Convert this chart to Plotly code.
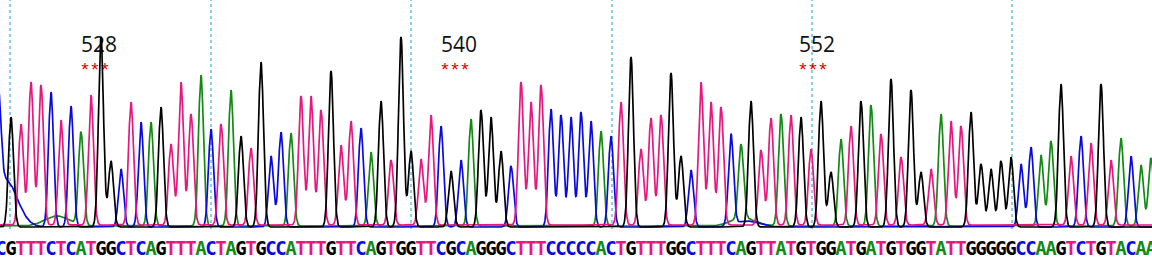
import numpy as np
import plotly.graph_objects as go

# ---- data ----
sequence = list("CGTTTCTCATGGCTCAGTTTACTAGTGCCATTTGTTCAGTGGTTCGCAGGGCTTTCCCCC"
                "ACTGTTTGGCTTTCAGTTATGTGGATGATGTGGTATTGGGGGCCAAGTCTGTACAA")
peak_heights = [95, 110, 101, 143, 140, 135, 105, 121, 93, 130,
                190, 66, 58, 123, 105, 104, 120, 81, 143, 111,
                151, 98, 101, 136, 91, 77, 165, 71, 95, 93,
                129, 129, 115, 156, 80, 104, 99, 74, 126, 65,
                190, 76, 66, 110, 101, 56, 67, 107, 117, 110,
                76, 61, 143, 123, 140, 118, 112, 110, 115, 106,
                95, 91, 123, 170, 76, 107, 110, 154, 71, 57,
                143, 123, 118, 91, 74, 126, 75, 107, 112, 110,
                110, 76, 126, 55, 87, 99, 126, 121, 91, 148,
                68, 137, 55, 56, 112, 104, 99, 115, 63, 58,
                66, 70, 63, 80, 71, 85, 143, 69, 91, 82,
                143, 65, 88, 71, 61, 68]
peak_shift = {0: -0.25}
# low, broad background humps: (base, centre position, height)
humps = [("C", 0.4, 48), ("A", 5.6, 10), ("A", 74.2, 8), ("C", 74.6, 6)]
baseline_level = {"A": 2, "C": 1, "G": 1, "T": 3}
codon_numbers = ["528", "540", "552"]
codon_positions = [9.4, 45.4, 81.2]
grid_positions = [0.9, 21, 41, 61.1, 81.1, 101.1]

colors = {"A": "#138a13", "C": "#0a0ae0", "G": "#000000", "T": "#e8177f"}

x = np.arange(-0.6, 115.7, 0.04)
sigma = 0.25

fig = go.Figure()

# codon labels and markers (drawn first so traces lie on top)
fig.add_trace(go.Scatter(
    x=[p + 0.4 for p in codon_positions], y=[181] * len(codon_positions),
    text=codon_numbers, mode="text", textposition="middle center",
    textfont=dict(family="Open Sans", size=21, color="#111111"),
    hoverinfo="skip", showlegend=False))
star_x = [p + d for p in codon_positions for d in (-1, 0, 1)]
fig.add_trace(go.Scatter(
    x=star_x, y=[157] * len(star_x),
    text=["*"] * len(star_x), mode="text", textposition="middle center",
    textfont=dict(family="Liberation Sans", size=19, color="#e00000"),
    hoverinfo="skip", showlegend=False))

for base in ["A", "C", "T", "G"]:
    y = np.full_like(x, float(baseline_level[base]))
    for i, (b, h) in enumerate(zip(sequence, peak_heights)):
        if b == base:
            c = i + peak_shift.get(i, 0)
            y += h * np.exp(-(x - c) ** 2 / (2 * sigma ** 2))
    for b, c, h in humps:
        if b == base:
            y += h * np.exp(-(x - c) ** 2 / (2 * 1.2 ** 2))
    fig.add_trace(go.Scatter(x=x, y=y, mode="lines",
                             line=dict(color=colors[base], width=1.7),
                             hoverinfo="skip", showlegend=False))

# base calls
fig.add_trace(go.Scatter(
    x=list(range(len(sequence))), y=[-22] * len(sequence), text=sequence,
    mode="text", textposition="middle center",
    textfont=dict(family="DejaVu Sans Mono", size=19, weight="bold",
                  color=[colors[b] for b in sequence]),
    hoverinfo="skip", showlegend=False))

for g in grid_positions:
    fig.add_shape(type="line", xref="x", yref="y", x0=g, x1=g, y0=-1, y1=228,
                  line=dict(color="#3ab0e0", width=1.2, dash="dot"), layer="below")

fig.update_layout(
    width=1152, height=272, margin=dict(l=0, r=0, t=0, b=0),
    paper_bgcolor="white", plot_bgcolor="white",
    xaxis=dict(range=[-0.1, 115.1], visible=False, fixedrange=True),
    yaxis=dict(range=[-44, 228], visible=False, fixedrange=True),
)

fig.write_html("out.html")
